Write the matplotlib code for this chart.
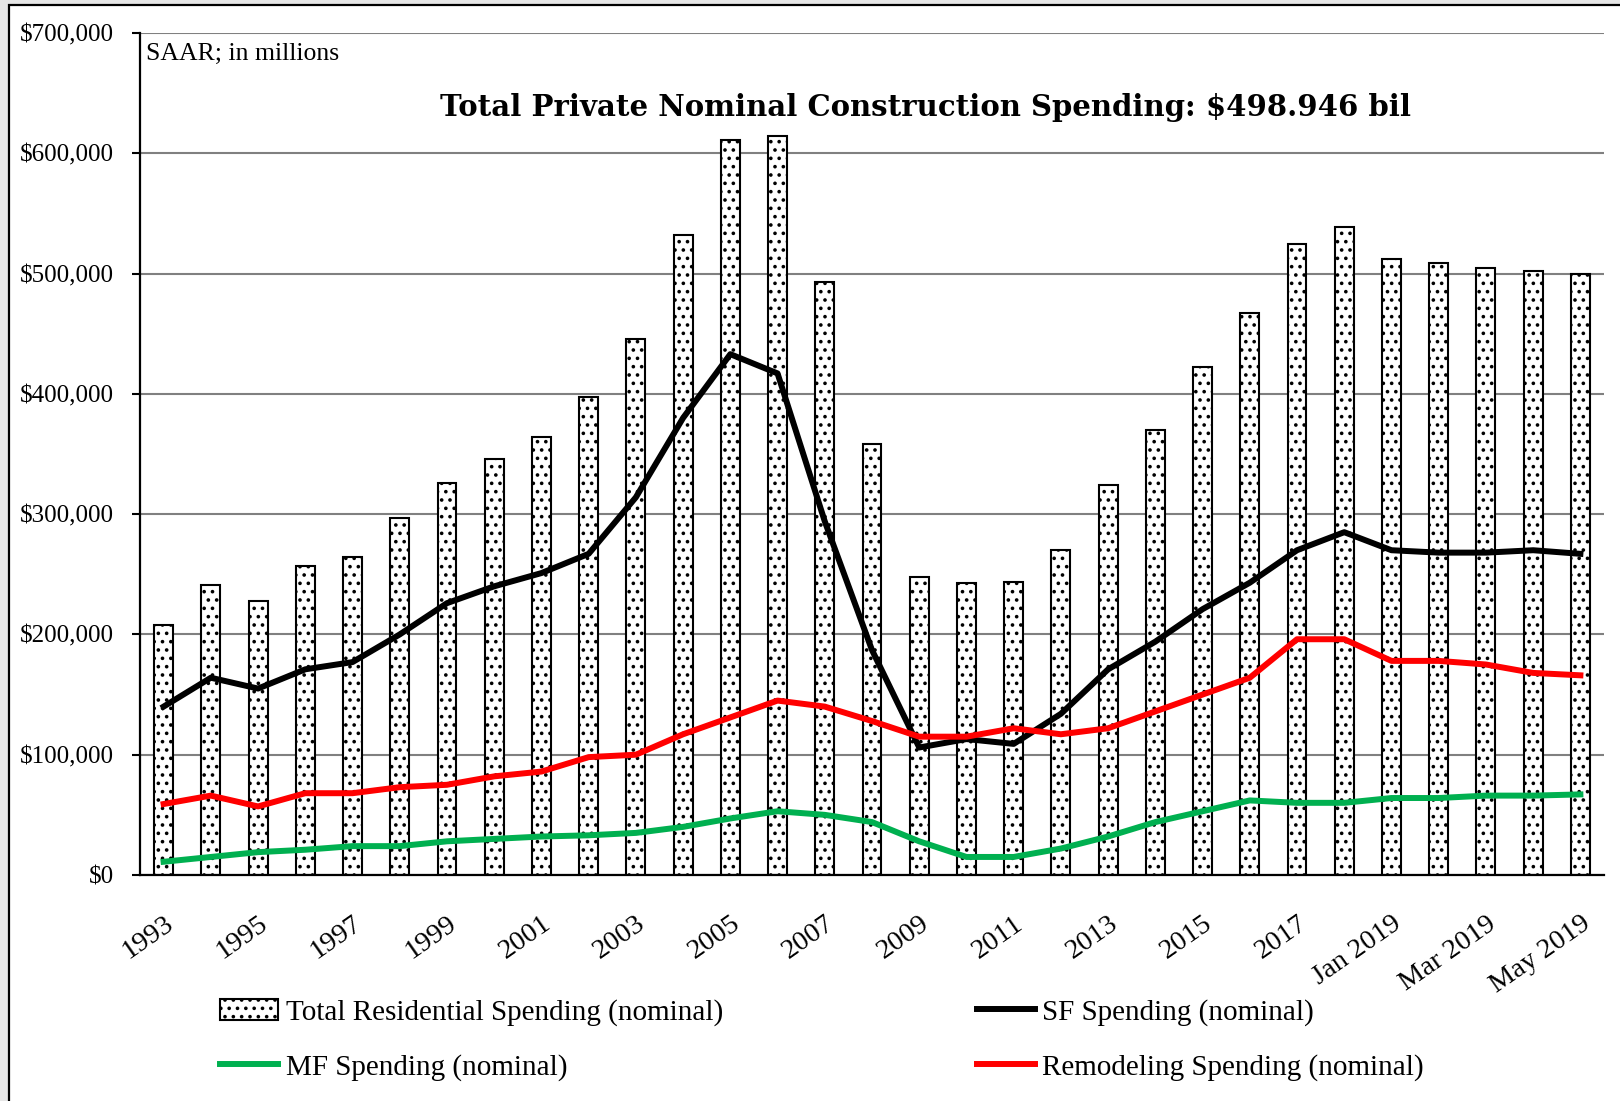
import numpy as np
import matplotlib.pyplot as plt
from matplotlib.patches import Rectangle

plt.rcParams['hatch.linewidth'] = 1.4

periods = ['1993', '1994', '1995', '1996', '1997', '1998', '1999', '2000', '2001',
           '2002', '2003', '2004', '2005', '2006', '2007', '2008', '2009', '2010',
           '2011', '2012', '2013', '2014', '2015', '2016', '2017', '2018',
           'Jan 2019', 'Feb 2019', 'Mar 2019', 'Apr 2019', 'May 2019']

# SAAR, millions of dollars
total_res = [208, 241, 228, 257, 264, 297, 326, 346, 364, 397, 446, 532, 611, 614,
             493, 358, 248, 243, 244, 270, 324, 370, 422, 467, 525, 539,
             512, 509, 505, 502, 500]
sf = [140, 164, 155, 171, 177, 200, 226, 240, 251, 267, 314, 380, 433, 417,
      294, 187, 106, 113, 109, 134, 171, 194, 221, 243, 270, 285,
      270, 268, 268, 270, 267]
mf = [11, 15, 19, 21, 24, 24, 28, 30, 32, 33, 35, 40, 47, 53,
      50, 44, 28, 15, 15, 22, 32, 44, 53, 62, 60, 60,
      64, 64, 66, 66, 67]
remodel = [59, 66, 57, 68, 68, 73, 75, 82, 86, 98, 100, 117, 131, 145,
           140, 128, 115, 115, 122, 117, 122, 136, 150, 164, 196, 196,
           178, 178, 175, 168, 166]

total_res = np.array(total_res) * 1000
sf = np.array(sf) * 1000
mf = np.array(mf) * 1000
remodel = np.array(remodel) * 1000
x = np.arange(len(periods))

serif = 'Liberation Serif'

fig = plt.figure(figsize=(16.2, 11.01), dpi=100, facecolor='#e6e6e6')
frame = Rectangle((9 / 1620, -0.05), 1.2, 1 - 5 / 1101 + 0.05, transform=fig.transFigure,
                  facecolor='white', edgecolor='black', lw=1.6, zorder=-10)
fig.add_artist(frame)

ax = fig.add_axes([140 / 1620, 1 - 875 / 1101, 1464 / 1620, 842 / 1101])
ax.set_facecolor('none')

ax.bar(x, total_res, width=0.4, color='white', edgecolor='black', lw=1.5,
       hatch='..', label='Total Residential Spending (nominal)', zorder=2)
ax.plot(x, sf, color='black', lw=4.3, label='SF Spending (nominal)', zorder=3)
ax.plot(x, mf, color='#00B050', lw=4.3, label='MF Spending (nominal)', zorder=3)
ax.plot(x, remodel, color='#FF0000', lw=4.3, label='Remodeling Spending (nominal)', zorder=4)

ax.set_xlim(-0.5, len(periods) - 0.5)
ax.set_ylim(0, 700000)
ax.set_yticks(np.arange(0, 700001, 100000))
ax.set_yticklabels(['${:,.0f}'.format(v) for v in np.arange(0, 700001, 100000)],
                   family=serif, fontsize=18)
ax.tick_params(axis='y', length=6, width=1.5, pad=13)
ax.grid(axis='y', color='#808080', lw=1.5, zorder=0)

ax.set_xticks(x[::2])
ax.set_xticklabels(periods[::2], rotation=35, ha='right', va='top',
                   rotation_mode='anchor', family=serif, fontsize=20.5)
ax.tick_params(axis='x', length=0, pad=26)

for side in ['top', 'right']:
    ax.spines[side].set_visible(False)
ax.spines['left'].set_linewidth(1.6)
ax.spines['bottom'].set_linewidth(1.6)

fig.text(146 / 1620, 1 - 54 / 1101, 'SAAR; in millions', family=serif, fontsize=18.5,
         ha='left', va='center')
fig.text(925 / 1620, 1 - 107 / 1101,
         'Total Private Nominal Construction Spending: $498.946 bil',
         family='DejaVu Serif', weight='bold', fontsize=21, ha='center', va='center')

handles, labels = ax.get_legend_handles_labels()
order = [3, 1, 0, 2]
fig.legend([handles[i] for i in order], [labels[i] for i in order],
           loc='upper left', bbox_to_anchor=(220 / 1620, 1 - 999 / 1101),
           ncol=2, frameon=False, prop={'family': serif, 'size': 21},
           handlelength=2.0, handletextpad=0.25, columnspacing=8.7,
           labelspacing=0.95, borderpad=0, borderaxespad=0)

fig.savefig('out.png', dpi=100, facecolor=fig.get_facecolor())
